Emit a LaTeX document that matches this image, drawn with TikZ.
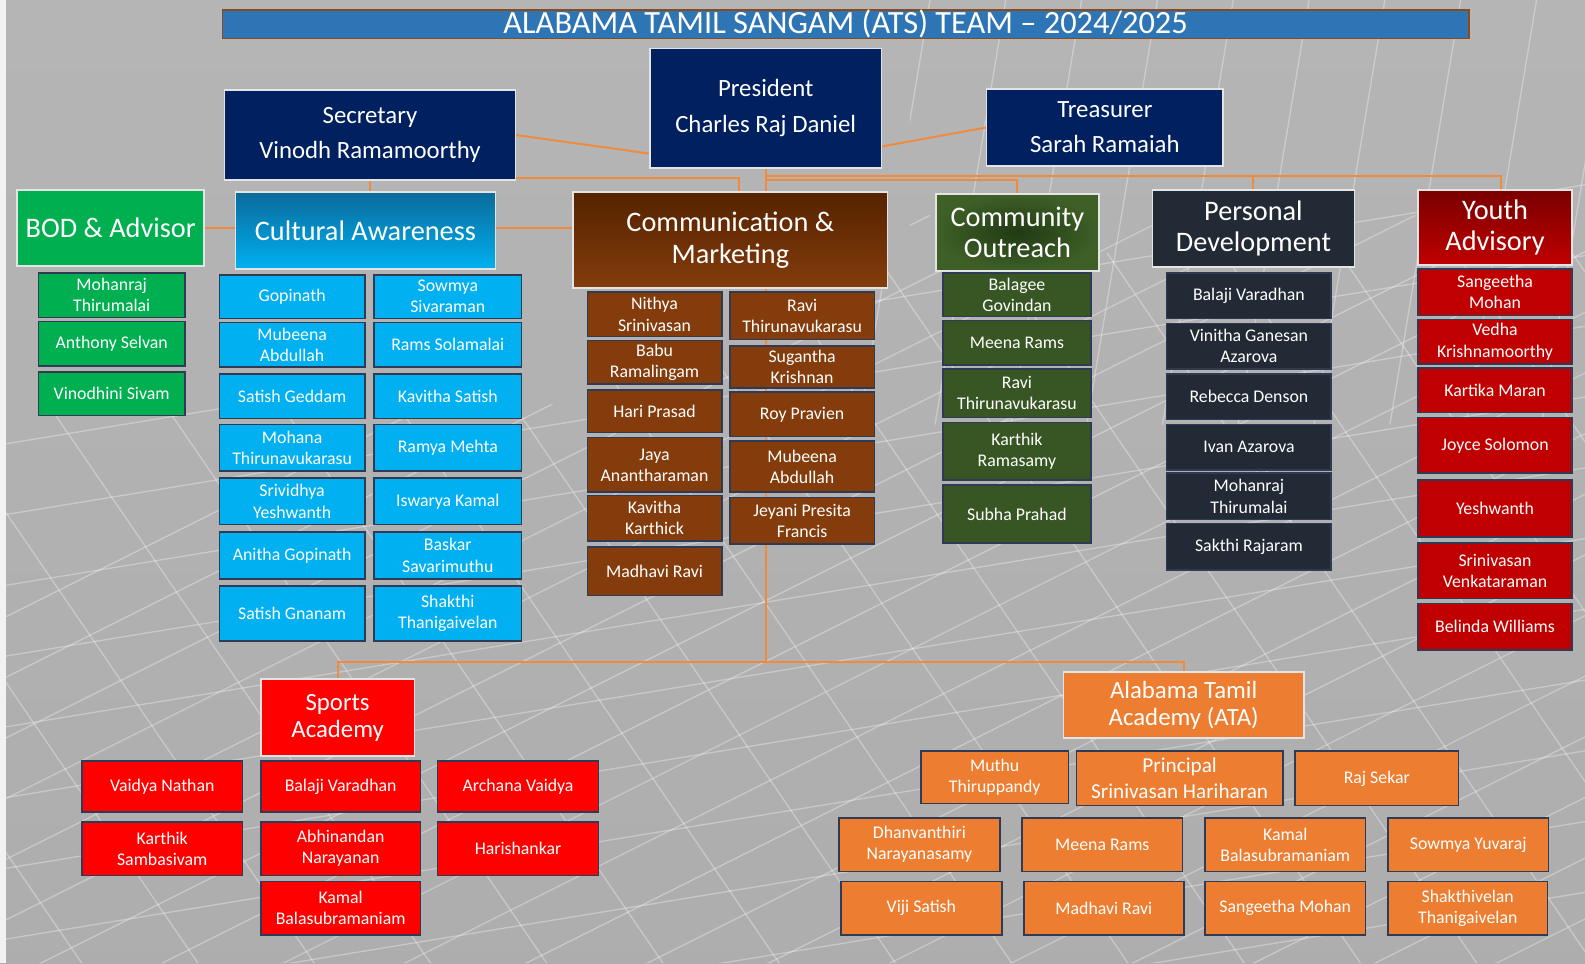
\documentclass[tikz,border=0pt]{standalone}
\usepackage{fontspec}
\setmainfont{Carlito}
\usetikzlibrary{calc}
\pgfdeclarelayer{bg}
\pgfdeclarelayer{lines}
\pgfsetlayers{bg,lines,main}
\definecolor{navy}{HTML}{002060}
\definecolor{bodg}{HTML}{00B050}
\definecolor{cyanb}{HTML}{00B0F0}
\definecolor{cyand}{HTML}{0A6A9A}
\definecolor{brn}{HTML}{843C0C}
\definecolor{brnd}{HTML}{552300}
\definecolor{dgreen}{HTML}{375623}
\definecolor{dgreenc}{HTML}{213A14}
\definecolor{dgreeno}{HTML}{3E6027}
\definecolor{slate}{HTML}{222A35}
\definecolor{dred}{HTML}{C00000}
\definecolor{dredd}{HTML}{7A0000}
\definecolor{bred}{HTML}{FF0000}
\definecolor{orng}{HTML}{ED7D31}
\definecolor{titleblue}{HTML}{2E75B6}
\definecolor{titleborder}{HTML}{8A4A1C}
\definecolor{memborder}{HTML}{2F3B55}
\definecolor{headborder}{HTML}{E4E4E4}
\definecolor{conncol}{HTML}{F08A3C}
\newcommand\pbox[7]{%
  \node[#6, minimum width={(#4-#2)*1.0108pt}, minimum height={(#5-#3)*1.0108pt}] (#1) at ({(#2+#4)/2},{(#3+#5)/2}) {#7};}
\tikzset{
  basebox/.style={rectangle, inner sep=0pt, outer sep=0pt, text=white, align=center, line width=1.6pt},
  mem/.style={basebox, draw=memborder, font=\fontsize{17.8}{21.2}\selectfont},
  hdr/.style={basebox, draw=headborder, font=\fontsize{28.3}{31.3}\selectfont},
  off/.style={basebox, draw=headborder, fill=navy, font=\fontsize{24.8}{35.4}\selectfont},
  sub/.style={basebox, draw=headborder, font=\fontsize{24.8}{27.3}\selectfont},
  titlestyle/.style={basebox, fill=titleblue, draw=titleborder, font=\fontsize{32.4}{34}\selectfont},
  cn/.style={draw=conncol, line width=2pt},
  mesh/.style={white, opacity=0.32, line width=1.3pt}
}
\begin{document}
\begin{tikzpicture}[x=1.0108pt,y=-1.0108pt]
\useasboundingbox (0,0) rectangle (1568,952.7);
\begin{pgfonlayer}{bg}
  \shade[top color=gray!58, bottom color=gray!64] (0,0) rectangle (1568,952.7);
  \fill[white!90!gray] (0,0) rectangle (6,952.7);
  \begin{scope}
    \clip (6,400) -- (560,400) -- (900,250) -- (900,0) -- (1568,0) -- (1568,952.7) -- (6,952.7) -- cycle;
    \foreach \k in {0,...,22} {\draw[mesh] ({\k*120-700},963) -- ++(1500,-750);}
    \foreach \k in {0,...,22} {\draw[mesh] ({\k*115-400},250) -- ++(520,760);}
    \foreach \k in {0,...,10} {\draw[mesh] (0,{440+\k*70}) -- ++(1585,-260);}
    \foreach \k in {0,...,9} {\draw[mesh] ({920+\k*75},0) -- ++(-70,420);}
  \end{scope}
\end{pgfonlayer}

% title
\pbox{title}{220}{10}{1453}{38}{titlestyle}{ALABAMA TAMIL SANGAM (ATS) TEAM – 2024/2025}

% officers
\pbox{pres}{643}{48}{872}{166}{off}{President\\Charles Raj Daniel}
\pbox{sec}{222}{89}{510}{178}{off}{Secretary\\Vinodh Ramamoorthy}
\pbox{tre}{976}{88}{1210}{164}{off}{Treasurer\\Sarah Ramaiah}

% department headers
\pbox{bod}{17}{188}{202}{263}{hdr, fill=bodg}{BOD \& Advisor}
\pbox{cul}{233}{190}{490}{266}{hdr, top color=cyand, bottom color=cyanb}{Cultural Awareness}
\pbox{com}{567}{190}{878}{285}{hdr, top color=brnd, bottom color=brn}{Communication \&\\Marketing}
\pbox{cout}{926}{192}{1087}{268}{hdr, inner color=dgreenc, outer color=dgreeno}{Community\\Outreach}
\pbox{pd}{1140}{188}{1340}{264}{hdr, fill=slate}{Personal\\Development}
\pbox{ya}{1403}{188}{1555}{262}{hdr, top color=dredd, bottom color=dred}{Youth\\Advisory}

% BOD members
\pbox{bod1}{38}{270}{183}{314}{mem, fill=bodg}{Mohanraj\\Thirumalai}
\pbox{bod2}{38}{318}{183}{362}{mem, fill=bodg}{Anthony Selvan}
\pbox{bod3}{38}{368}{183}{411}{mem, fill=bodg}{Vinodhini Sivam}

% Cultural members
\pbox{cul1}{217}{272}{361}{315}{mem, fill=cyanb}{Gopinath}
\pbox{cul2}{370}{272}{516}{315}{mem, fill=cyanb}{Sowmya\\Sivaraman}
\pbox{cul3}{217}{319}{361}{363}{mem, fill=cyanb}{Mubeena\\Abdullah}
\pbox{cul4}{370}{319}{516}{363}{mem, fill=cyanb}{Rams Solamalai}
\pbox{cul5}{217}{370}{361}{414}{mem, fill=cyanb}{Satish Geddam}
\pbox{cul6}{370}{370}{516}{414}{mem, fill=cyanb}{Kavitha Satish}
\pbox{cul7}{217}{420}{361}{466}{mem, fill=cyanb}{Mohana\\Thirunavukarasu}
\pbox{cul8}{370}{420}{516}{466}{mem, fill=cyanb}{Ramya Mehta}
\pbox{cul9}{217}{473}{361}{519}{mem, fill=cyanb}{Srividhya\\Yeshwanth}
\pbox{cul10}{370}{473}{516}{519}{mem, fill=cyanb}{Iswarya Kamal}
\pbox{cul11}{217}{526}{361}{573}{mem, fill=cyanb}{Anitha Gopinath}
\pbox{cul12}{370}{526}{516}{573}{mem, fill=cyanb}{Baskar\\Savarimuthu}
\pbox{cul13}{217}{580}{361}{634}{mem, fill=cyanb}{Satish Gnanam}
\pbox{cul14}{370}{580}{516}{634}{mem, fill=cyanb}{Shakthi\\Thanigaivelan}

% Communication members
\pbox{com1}{581}{289}{714}{333}{mem, fill=brn}{Nithya\\Srinivasan}
\pbox{com2}{581}{337}{714}{380}{mem, fill=brn}{Babu\\Ramalingam}
\pbox{com3}{581}{386}{714}{428}{mem, fill=brn}{Hari Prasad}
\pbox{com4}{581}{433}{714}{487}{mem, fill=brn}{Jaya\\Anantharaman}
\pbox{com5}{581}{490}{714}{535}{mem, fill=brn}{Kavitha\\Karthick}
\pbox{com6}{581}{541}{714}{589}{mem, fill=brn}{Madhavi Ravi}
\pbox{com7}{722}{289}{865}{336}{mem, fill=brn}{Ravi\\Thirunavukarasu}
\pbox{com8}{722}{342}{865}{384}{mem, fill=brn}{Sugantha\\Krishnan}
\pbox{com9}{722}{388}{865}{432}{mem, fill=brn}{Roy Pravien}
\pbox{com10}{722}{436}{865}{487}{mem, fill=brn}{Mubeena\\Abdullah}
\pbox{com11}{722}{492}{865}{538}{mem, fill=brn}{Jeyani Presita\\Francis}

% Community members
\pbox{co1}{933}{270}{1079}{313}{mem, fill=dgreen}{Balagee\\Govindan}
\pbox{co2}{933}{317}{1079}{361}{mem, fill=dgreen}{Meena Rams}
\pbox{co3}{933}{365}{1079}{413}{mem, fill=dgreen}{Ravi\\Thirunavukarasu}
\pbox{co4}{933}{418}{1079}{475}{mem, fill=dgreen}{Karthik\\Ramasamy}
\pbox{co5}{933}{480}{1079}{537}{mem, fill=dgreen}{Subha Prahad}

% Personal development members
\pbox{pd1}{1154}{270}{1317}{315}{mem, fill=slate}{Balaji Varadhan}
\pbox{pd2}{1154}{320}{1317}{365}{mem, fill=slate}{Vinitha Ganesan\\Azarova}
\pbox{pd3}{1154}{370}{1317}{415}{mem, fill=slate}{Rebecca Denson}
\pbox{pd4}{1154}{420}{1317}{465}{mem, fill=slate}{Ivan Azarova}
\pbox{pd5}{1154}{468}{1317}{514}{mem, fill=slate}{Mohanraj\\Thirumalai}
\pbox{pd6}{1154}{518}{1317}{564}{mem, fill=slate}{Sakthi Rajaram}

% Youth members
\pbox{ya1}{1403}{266}{1555}{312}{mem, fill=dred}{Sangeetha\\Mohan}
\pbox{ya2}{1403}{316}{1555}{360}{mem, fill=dred}{Vedha\\Krishnamoorthy}
\pbox{ya3}{1403}{364}{1555}{408}{mem, fill=dred}{Kartika Maran}
\pbox{ya4}{1403}{413}{1555}{468}{mem, fill=dred}{Joyce Solomon}
\pbox{ya5}{1403}{475}{1555}{531}{mem, fill=dred}{Yeshwanth}
\pbox{ya6}{1403}{537}{1555}{592}{mem, fill=dred}{Srinivasan\\Venkataraman}
\pbox{ya7}{1403}{597}{1555}{643}{mem, fill=dred}{Belinda Williams}

% Sports academy
\pbox{sp}{258}{672}{410}{748}{sub, fill=bred}{Sports\\Academy}
\pbox{sp1}{81}{753}{240}{803}{mem, fill=bred}{Vaidya Nathan}
\pbox{sp2}{258}{753}{416}{803}{mem, fill=bred}{Balaji Varadhan}
\pbox{sp3}{433}{753}{592}{803}{mem, fill=bred}{Archana Vaidya}
\pbox{sp4}{81}{813}{240}{866}{mem, fill=bred}{Karthik\\Sambasivam}
\pbox{sp5}{258}{813}{416}{866}{mem, fill=bred}{Abhinandan\\Narayanan}
\pbox{sp6}{433}{813}{592}{866}{mem, fill=bred}{Harishankar}
\pbox{sp7}{258}{872}{416}{925}{mem, fill=bred}{Kamal\\Balasubramaniam}

% Alabama Tamil Academy
\pbox{ata}{1052}{665}{1290}{730}{sub, fill=orng}{Alabama Tamil\\Academy (ATA)}
\pbox{ata1}{911}{743}{1057}{795}{mem, fill=orng}{Muthu\\Thiruppandy}
\pbox{ata2}{1065}{743}{1269}{797}{mem, fill=orng, font=\fontsize{21.2}{26.3}\selectfont}{Principal\\Srinivasan Hariharan}
\pbox{ata3}{1281}{743}{1443}{797}{mem, fill=orng}{Raj Sekar}
\pbox{ata4}{830}{809}{989}{862}{mem, fill=orng}{Dhanvanthiri\\Narayanasamy}
\pbox{ata5}{1011}{809}{1170}{862}{mem, fill=orng}{Meena Rams}
\pbox{ata6}{1192}{809}{1351}{862}{mem, fill=orng}{Kamal\\Balasubramaniam}
\pbox{ata7}{1373}{809}{1532}{862}{mem, fill=orng}{Sowmya Yuvaraj}
\pbox{ata8}{832}{872}{991}{925}{mem, fill=orng}{Viji Satish}
\pbox{ata9}{1013}{872}{1171}{925}{mem, fill=orng}{Madhavi Ravi}
\pbox{ata10}{1192}{872}{1351}{925}{mem, fill=orng}{Sangeetha Mohan}
\pbox{ata11}{1373}{872}{1531}{925}{mem, fill=orng}{Shakthivelan\\Thanigaivelan}

% connectors
\begin{pgfonlayer}{lines}
  \draw[cn] (sec.east) -- ($(pres.south west)+(0,-14)$);
  \draw[cn] ($(pres.south east)+(0,-21)$) -- (tre.west);
  \draw[cn] (bod.east) -- (bod.east -| cul.west);
  \draw[cn] ($(cul.east)+(0,-2)$) -- ($(cul.east -| com.west)+(0,-2)$);
  \draw[cn] (sec.south) -- (sec.south |- cul.north);
  \draw[cn] ($(sec.south east)+(0,-2)$) -| ($(com.north)+(9,0)$);
  \draw[cn] (pres.south) -- (pres.south |- com.north);
  \draw[cn] ($(pres.south)+(0,8)$) -| (pd.north);
  \draw[cn] ($(pres.south)+(0,8)$) -| ($(ya.north)+(6,0)$);
  \draw[cn] ($(pres.south)+(0,12)$) -| (cout.north);
  \coordinate (bus) at ($(pres.south |- com.south)+(0,370)$);
  \draw[cn] (pres.south |- com.south) -- (bus);
  \draw[cn] (sp.north) |- (bus) -| (ata.north);
\end{pgfonlayer}
\end{tikzpicture}
\end{document}
